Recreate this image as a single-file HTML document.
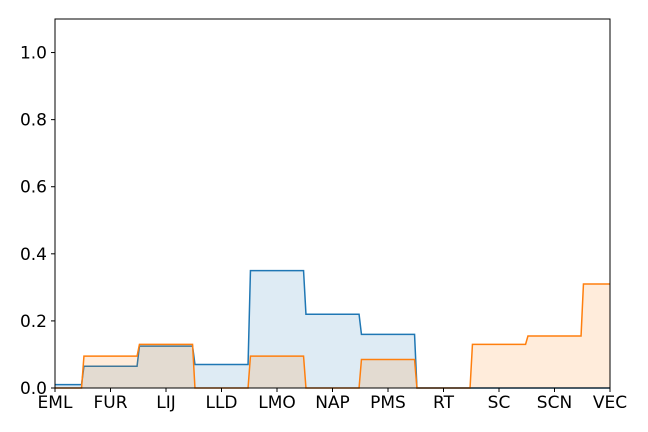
<!DOCTYPE html>
<html><head><meta charset="utf-8"><style>
html,body{margin:0;padding:0;background:#fff;}
svg{display:block;font-family:"DejaVu Sans","Liberation Sans",sans-serif;}
</style></head><body>
<svg id="chart" width="648" height="432"></svg>
<script>
const categories = ["EML","FUR","LIJ","LLD","LMO","NAP","PMS","RT","SC","SCN","VEC"];
const seriesBlue = [0.01,0.065,0.125,0.07,0.35,0.22,0.16,0,0,0,0];
const seriesOrange = [0,0.095,0.13,0,0.095,0,0.085,0,0.13,0.155,0.31];
const yTicks = [0,0.2,0.4,0.6,0.8,1.0];
const yTickLabels = ["0.0","0.2","0.4","0.6","0.8","1.0"];

const NS="http://www.w3.org/2000/svg";
const svg=document.getElementById('chart');
const L=55,R=610,T=19,B=388,yMax=1.1;
const n=categories.length;
const xs=i=>L+(R-L)*i/(n-1);
const ys=v=>B-(B-T)*v/yMax;
function mk(tag,attrs){const e=document.createElementNS(NS,tag);for(const k in attrs)e.setAttribute(k,attrs[k]);svg.appendChild(e);return e;}

function stepPts(vals){
  const step=(R-L)/(n-1), d=1.2;
  const pts=[];
  for(let i=0;i<n;i++){
    const a=Math.max(L,xs(i)-step/2+(i>0?d:0));
    const b=Math.min(R,xs(i)+step/2-(i<n-1?d:0));
    pts.push([a,ys(vals[i])],[b,ys(vals[i])]);
  }
  return pts;
}
function drawSeries(vals,stroke,fill,name){
  const pts=stepPts(vals);
  const line=pts.map(p=>p[0].toFixed(2)+","+p[1].toFixed(2)).join(" ");
  const area=mk('polygon',{points:line+" "+R+","+B+" "+L+","+B,fill:fill,'fill-opacity':0.15,stroke:'none'});
  
  
  const pl=mk('polyline',{points:line,fill:'none',stroke:stroke,'stroke-width':1.5});
  
  
}
drawSeries(seriesBlue,'#1f77b4','#1f77b4','series-blue');
drawSeries(seriesOrange,'#ff7f0e','#ff7f0e','series-orange');

const frame=mk('rect',{x:L,y:T,width:R-L,height:B-T,fill:'none',stroke:'#000','stroke-width':1});



yTicks.forEach((v,i)=>{
  const y=ys(v);
  const t=mk('line',{x1:L-4,x2:L,y1:y,y2:y,stroke:'#000'});
  
  
  const tx=mk('text',{x:L-8,y:y+6,'text-anchor':'end','font-size':17,fill:'#000'});
  tx.textContent=yTickLabels[i];
  
  
});
categories.forEach((c,i)=>{
  const x=xs(i);
  const t=mk('line',{x1:x,x2:x,y1:B,y2:B+4,stroke:'#000'});
  
  
  const tx=mk('text',{x:x,y:B+20,'text-anchor':'middle','font-size':17,fill:'#000'});
  tx.textContent=c;
  
  
});
</script>
</body></html>
